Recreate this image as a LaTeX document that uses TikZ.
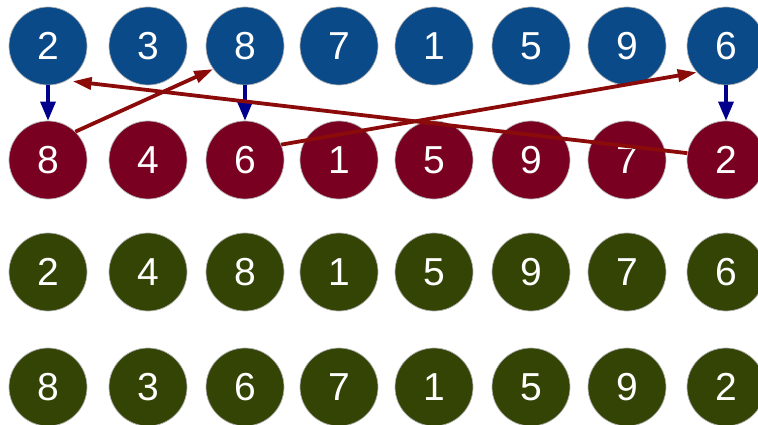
\documentclass[tikz,border=0pt]{standalone}
\usepackage{fontspec}
\setmainfont{Liberation Sans}
\usetikzlibrary{arrows.meta}
\definecolor{cblue}{HTML}{0B4A88}
\definecolor{cred}{HTML}{7A0022}
\definecolor{cgreen}{HTML}{344405}
\definecolor{ared}{HTML}{8B0A0A}
\definecolor{ablue}{HTML}{00008C}
\tikzset{
  ball/.style={circle, minimum size=78pt, inner sep=0pt, draw=gray!60, line width=0.7pt,
    text=white, font=\fontsize{39}{39}\selectfont},
  bb/.style={ball, fill=cblue},
  rb/.style={ball, fill=cred},
  gb/.style={ball, fill=cgreen},
  darr/.style={draw=ablue, line width=3.3pt, -{Triangle[length=19pt,width=15pt]}},
  rarr/.style={draw=ared, line width=3.8pt, -{Triangle[length=19pt,width=12pt]}}
}
\begin{document}
\begin{tikzpicture}[x=1pt,y=-1pt]
\useasboundingbox (0,0) rectangle (758,425);
\foreach \lbl/\x [count=\i] in {2/48,3/148,8/245,7/339,1/434,5/531,9/627,6/726}
  \node[bb] (b\i) at (\x,46) {\lbl};
\foreach \lbl/\x [count=\i] in {8/48,4/148,6/245,1/339,5/434,9/531,7/627,2/726}
  \node[rb] (r\i) at (\x,160) {\lbl};
\foreach \lbl/\x [count=\i] in {2/48,4/148,8/245,1/339,5/434,9/531,7/627,6/726}
  \node[gb] (g\i) at (\x,272) {\lbl};
\foreach \lbl/\x [count=\i] in {8/48,3/148,6/245,7/339,1/434,5/531,9/627,2/726}
  \node[gb] (h\i) at (\x,387) {\lbl};
\draw[darr] (b1.south) -- (r1.north);
\draw[darr] (b3.south) -- (r3.north);
\draw[darr] (b8.south) -- (r8.north);
\draw[rarr] (r1.46) -- (b3.216);
\draw[rarr] (r3.23) -- (b8.222);
\draw[rarr] (r8.170) -- ([shift={(2pt,-3pt)}]b1.305);
\end{tikzpicture}
\end{document}
